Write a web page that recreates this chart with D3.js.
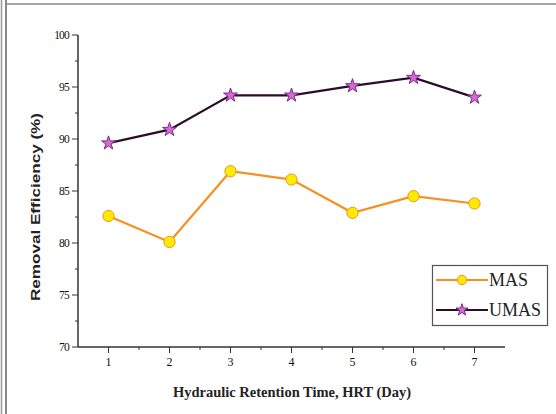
<!DOCTYPE html>
<html>
<head>
<meta charset="utf-8">
<script src="https://cdn.jsdelivr.net/npm/d3@7"></script>
<style>
  html, body { margin: 0; padding: 0; background: #fff; }
  svg { display: block; }
</style>
</head>
<body>
<svg id="chart" width="556" height="414"></svg>
<script>
// Removal efficiency vs hydraulic retention time
const days = [1, 2, 3, 4, 5, 6, 7];
const masValues = [82.6, 80.1, 86.9, 86.1, 82.9, 84.5, 83.8];
const umasValues = [89.6, 90.9, 94.2, 94.2, 95.1, 95.9, 94.0];
const yTickValues = [70, 75, 80, 85, 90, 95, 100];
const seriesNames = ["MAS", "UMAS"];

const svg = d3.select("#chart");
const W = 556, H = 414;

// page frame: double rule on the left, single rule on top
svg.append("rect").attr("x", 0).attr("y", 0).attr("width", W).attr("height", H).attr("fill", "#fff");
svg.append("line").attr("x1", 1.5).attr("x2", 1.5).attr("y1", 0).attr("y2", H).attr("stroke", "#999").attr("stroke-width", 1.5);
svg.append("line").attr("x1", 6).attr("x2", 6).attr("y1", 0).attr("y2", H).attr("stroke", "#888").attr("stroke-width", 2);
svg.append("line").attr("x1", 6).attr("x2", W).attr("y1", 4).attr("y2", 4).attr("stroke", "#888").attr("stroke-width", 1.5);

const x = d3.scaleLinear().domain([0.5, 7.5]).range([78, 505]);
const y = d3.scaleLinear().domain([70, 100]).range([347, 35]);

const tickFont = "'Liberation Serif', 'Times New Roman', serif";

// y axis
const yAxis = svg.append("g").attr("transform", "translate(78,0)");
yAxis.append("line").attr("x1", 0).attr("x2", 0).attr("y1", y(100)).attr("y2", y(70)).attr("stroke", "#333").attr("stroke-width", 1.5);
const yMinor = d3.range(72.5, 100, 5);
yAxis.selectAll(".ymin").data(yMinor).join("line")
  .attr("x1", -3).attr("x2", 0).attr("y1", d => y(d)).attr("y2", d => y(d))
  .attr("stroke", "#333").attr("stroke-width", 1);
yAxis.selectAll(".ymaj").data(yTickValues).join("line")
  .attr("x1", -6).attr("x2", 0).attr("y1", d => y(d)).attr("y2", d => y(d))
  .attr("stroke", "#333").attr("stroke-width", 1);
yAxis.selectAll(".ylab").data(yTickValues).join("text")
  .attr("x", -9).attr("y", d => y(d)).attr("dy", "0.35em")
  .attr("text-anchor", "end")
  .attr("font-family", tickFont).attr("font-size", 11.5).attr("fill", "#111")
  .attr("letter-spacing", -0.8)
  .text(d => d);

// x axis
const xAxis = svg.append("g").attr("transform", "translate(0,347)");
xAxis.append("line").attr("x1", x(0.5)).attr("x2", x(7.5)).attr("y1", 0).attr("y2", 0).attr("stroke", "#333").attr("stroke-width", 1.5);
const xMinor = d3.range(1.5, 7.5, 1);
xAxis.selectAll(".xmin").data(xMinor).join("line")
  .attr("x1", d => x(d)).attr("x2", d => x(d)).attr("y1", 0).attr("y2", 3)
  .attr("stroke", "#333").attr("stroke-width", 1);
xAxis.selectAll(".xmaj").data(days).join("line")
  .attr("x1", d => x(d)).attr("x2", d => x(d)).attr("y1", 0).attr("y2", 6)
  .attr("stroke", "#333").attr("stroke-width", 1);
xAxis.selectAll(".xlab").data(days).join("text")
  .attr("x", d => x(d)).attr("y", 19)
  .attr("text-anchor", "middle")
  .attr("font-family", tickFont).attr("font-size", 12).attr("fill", "#111")
  .text(d => d);

// axis titles
svg.append("text")
  .attr("x", 292).attr("y", 397)
  .attr("text-anchor", "middle")
  .attr("font-family", tickFont).attr("font-weight", "bold").attr("font-size", 14)
  .attr("fill", "#222")
  .attr("textLength", 238).attr("lengthAdjust", "spacingAndGlyphs")
  .text("Hydraulic Retention Time, HRT (Day)");

svg.append("text")
  .attr("transform", "translate(40,207) rotate(-90)")
  .attr("text-anchor", "middle")
  .attr("font-family", "'Liberation Sans', Arial, sans-serif").attr("font-weight", "bold").attr("font-size", 13)
  .attr("fill", "#222")
  .attr("textLength", 188).attr("lengthAdjust", "spacingAndGlyphs")
  .text("Removal Efficiency (%)");

// series
const line = d3.line().x((d, i) => x(days[i])).y(d => y(d));

const masColor = "#f7901e", masFill = "#ffeb00";
const umasColor = "#2a0d2a", umasFill = "#d36bd3", umasStroke = "#7a2a8a";

svg.append("path").datum(masValues).attr("d", line)
  .attr("fill", "none").attr("stroke", masColor).attr("stroke-width", 2.2);
svg.append("path").datum(umasValues).attr("d", line)
  .attr("fill", "none").attr("stroke", umasColor).attr("stroke-width", 2.2);

const circleSym = d3.symbol().type(d3.symbolCircle).size(100);
const starSym = d3.symbol().type(d3.symbolStar).size(60);

svg.selectAll(".mas").data(masValues).join("path")
  .attr("d", circleSym)
  .attr("transform", (d, i) => `translate(${x(days[i])},${y(d)})`)
  .attr("fill", masFill).attr("stroke", masColor).attr("stroke-width", 1);

svg.selectAll(".umas").data(umasValues).join("path")
  .attr("d", starSym)
  .attr("transform", (d, i) => `translate(${x(days[i])},${y(d)})`)
  .attr("fill", umasFill).attr("stroke", umasStroke).attr("stroke-width", 1);

// legend
const legCircle = d3.symbol().type(d3.symbolCircle).size(70);
const legStar = d3.symbol().type(d3.symbolStar).size(45);
const lg = svg.append("g");
lg.append("rect").attr("x", 432.5).attr("y", 265.5).attr("width", 115).attr("height", 60)
  .attr("fill", "#fff").attr("stroke", "#555").attr("stroke-width", 1.2);
const legendItems = [
  { name: seriesNames[0], color: masColor, fill: masFill, stroke: masColor, sym: legCircle, yy: 280 },
  { name: seriesNames[1], color: umasColor, fill: umasFill, stroke: umasStroke, sym: legStar, yy: 310 }
];
legendItems.forEach(it => {
  lg.append("line").attr("x1", 436).attr("x2", 488).attr("y1", it.yy).attr("y2", it.yy)
    .attr("stroke", it.color).attr("stroke-width", 2.2);
  lg.append("path").attr("d", it.sym).attr("transform", `translate(462,${it.yy})`)
    .attr("fill", it.fill).attr("stroke", it.stroke).attr("stroke-width", 1);
  lg.append("text").attr("x", 489).attr("y", it.yy).attr("dy", "0.35em")
    .attr("font-family", tickFont).attr("font-size", 18).attr("fill", "#222")
    .text(it.name);
});
</script>
</body>
</html>
